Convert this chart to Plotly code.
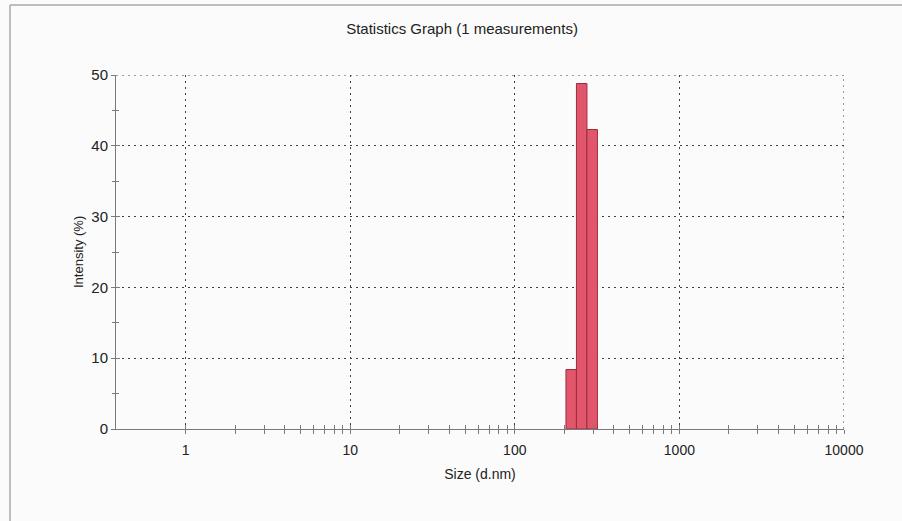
import numpy as np
import plotly.graph_objects as go

# Size distribution by intensity (bin centres in d.nm, intensity in %)
sizes = [220.2, 255.0, 295.3]
intensity = [8.4, 48.8, 42.3]

x_ticks = [1, 10, 100, 1000, 10000]
x_tick_text = ["1", "10", "100", "1000", "10000"]
y_ticks = [0, 10, 20, 30, 40, 50]

BAR_FILL = "#e2566b"
BAR_EDGE = "#9c2c3e"
GRID = "#404040"
GRID_DASH = "2px,4px"
AXIS = "#7a7a7a"
TXT = "#222222"
FONT = "Liberation Sans, Arial, sans-serif"

# plot area in pixels
L, R, T, B = 116, 58, 75, 92
PW, PH = 902 - L - R, 521 - T - B

# log-spaced bins: edges sit at the geometric midpoints between centres
ratio = sizes[1] / sizes[0]
half = np.sqrt(ratio)

fig = go.Figure()
for c, v in zip(sizes, intensity):
    lo, hi = c / half, c * half
    fig.add_trace(go.Scatter(
        x=[lo, lo, hi, hi, lo], y=[0, v, v, 0, 0],
        mode="lines", fill="toself", fillcolor=BAR_FILL,
        line=dict(color=BAR_EDGE, width=1),
        hoverinfo="skip", showlegend=False,
    ))

# minor ticks: 2..9 of each decade from 1 upwards
minor_x = [m * 10 ** d for d in range(0, 4) for m in range(2, 10)]

x_range = [np.log10(0.378), 4.0]
y_range = [0, 50]

fig.update_layout(
    width=902, height=521,
    margin=dict(l=L, r=R, t=T, b=B),
    paper_bgcolor="#fbfbfb", plot_bgcolor="#fbfbfb",
    font=dict(family=FONT, size=14, color=TXT),
    title=dict(text="Statistics Graph (1 measurements)", x=462 / 902, xref="container",
               xanchor="center", y=1 - 29 / 521, yanchor="middle", yref="container",
               font=dict(size=15, color=TXT)),
    showlegend=False,
    xaxis=dict(
        type="log", range=x_range,
        tickvals=x_ticks, ticktext=x_tick_text,
        showgrid=True, gridcolor=GRID, griddash=GRID_DASH, gridwidth=1,
        showline=True, linecolor=AXIS, linewidth=1,
        ticks="outside", ticklen=4, tickcolor=AXIS, ticklabelstandoff=4,
        minor=dict(tickvals=minor_x, ticks="outside", ticklen=4, tickcolor=AXIS, showgrid=False),
        zeroline=False,
        tickfont=dict(size=14, color=TXT),
        title=dict(text="Size (d.nm)", font=dict(size=14, color=TXT), standoff=12),
    ),
    yaxis=dict(
        range=y_range, tickvals=y_ticks,
        showgrid=True, gridcolor=GRID, griddash=GRID_DASH, gridwidth=1,
        showline=True, linecolor=AXIS, linewidth=1,
        ticks="outside", ticklen=4, tickcolor=AXIS,
        minor=dict(dtick=5, ticks="outside", ticklen=3, tickcolor=AXIS, showgrid=False),
        zeroline=False,
        tickfont=dict(size=15, color=TXT),
    ),
    # overlay axes give the ticks their inner half so they cross the axis lines
    xaxis2=dict(
        type="log", range=x_range, overlaying="x", side="bottom",
        tickvals=x_ticks, showticklabels=False, showgrid=False, zeroline=False,
        ticks="inside", ticklen=4, tickcolor=AXIS,
        minor=dict(tickvals=minor_x, ticks="inside", ticklen=4, tickcolor=AXIS, showgrid=False),
    ),
    yaxis2=dict(
        range=y_range, overlaying="y", side="left",
        tickvals=y_ticks, showticklabels=False, showgrid=False, zeroline=False,
        ticks="inside", ticklen=4, tickcolor=AXIS,
        minor=dict(dtick=5, ticks="inside", ticklen=3, tickcolor=AXIS, showgrid=False),
    ),
)

# keep the overlay axes active
fig.add_trace(go.Scatter(x=[1], y=[0], xaxis="x2", yaxis="y2", mode="markers",
                         marker=dict(opacity=0), hoverinfo="skip", showlegend=False))

# dotted grid lines on the top and right edges of the plot area
fig.add_shape(type="line", xref="paper", yref="y", x0=0, x1=1, y0=y_range[1], y1=y_range[1],
              line=dict(color=GRID, width=1, dash=GRID_DASH), layer="below")
fig.add_shape(type="line", xref="x", yref="paper", x0=x_ticks[-1], x1=x_ticks[-1], y0=0, y1=1,
              line=dict(color=GRID, width=1, dash=GRID_DASH), layer="below")

# y-axis title
fig.add_annotation(text="Intensity (%)", xref="paper", yref="paper",
                   x=(78 - L) / PW, y=0.5, xanchor="center", yanchor="middle",
                   textangle=-90, showarrow=False, font=dict(size=13, color=TXT))

# page frame lines (top and left)
fy = (521 - B - 5) / PH
fx = (10 - L) / PW
fig.add_shape(type="line", xref="paper", yref="paper",
              x0=fx, x1=(902 - L) / PW, y0=fy, y1=fy, line=dict(color="#a8a8a8", width=1.5))
fig.add_shape(type="line", xref="paper", yref="paper",
              x0=fx, x1=fx, y0=fy, y1=-B / PH, line=dict(color="#a8a8a8", width=1.5))

fig.write_html("out.html")
